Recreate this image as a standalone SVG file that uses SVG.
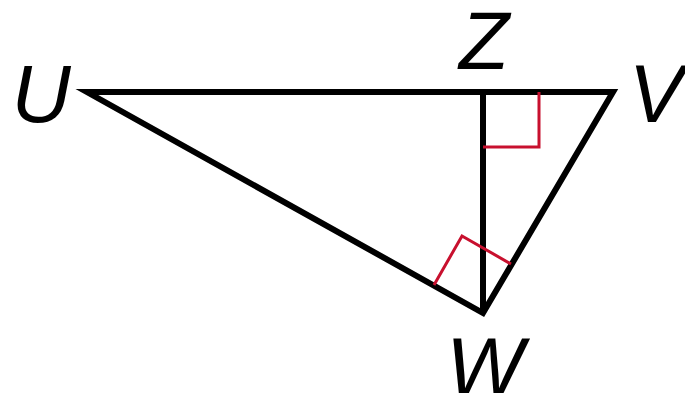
<svg xmlns="http://www.w3.org/2000/svg" width="685" height="393" viewBox="0 0 685 393">
<style>
.edge{fill:none;stroke:#000;stroke-width:6;stroke-linejoin:miter;stroke-linecap:butt}
.ra{fill:none;stroke:#c8102e;stroke-width:3}
.lbl{font-family:"Liberation Sans",Arial,sans-serif;font-style:italic;font-size:82px;fill:#000;text-anchor:middle}
</style>
<rect width="685" height="393" fill="#fff"/>
<g id="connectors">
<polygon class="edge" points="87,92 613,92 483,313"/>
<line class="edge" x1="483" y1="92" x2="483" y2="313"/>
<polyline class="ra" points="483,147 539,147 539,92"/>
<polyline class="ra" points="434,285 462,236 511,264"/>
</g>
<g id="U"><text class="lbl" x="41" y="122">U</text></g>
<g id="Z"><text class="lbl" x="484" y="69">Z</text></g>
<g id="V"><text class="lbl" x="656" y="122">V</text></g>
<g id="W"><text class="lbl" x="485" y="395">W</text></g>
</svg>
